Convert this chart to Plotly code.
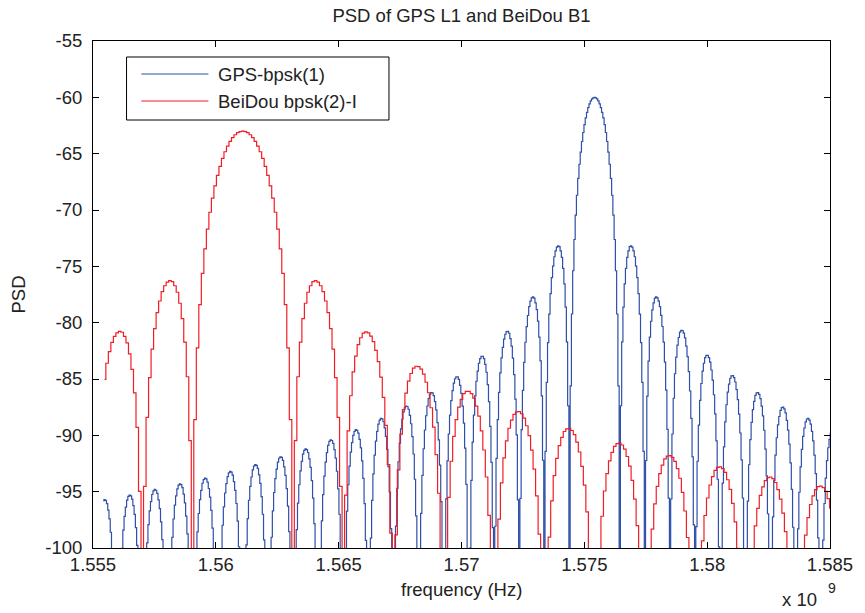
import numpy as np
import plotly.graph_objects as go

# ---------------- data ----------------
# GPS L1, BPSK(1): centre, null spacing, lobe peak levels (dB/Hz)
gps_center_mhz = 1575.42
gps_null_spacing_mhz = 1.023
gps_main_peak_db = -60.0
gps_left_lobe_peak_db = [-73.3, -77.8, -80.8, -83.0, -84.8, -86.2, -87.4, -88.5, -89.5, -90.4,
                         -91.2, -91.9, -92.6, -93.2, -93.8, -94.3, -94.8, -95.3, -95.7]
gps_right_lobe_peak_db = [-73.3, -77.8, -80.7, -82.9, -84.7, -86.2, -87.5, -88.5, -89.5]

# BeiDou B1, BPSK(2)-I
bds_center_mhz = 1561.098
bds_null_spacing_mhz = 2.046
bds_main_peak_db = -63.0
bds_left_lobe_peak_db = [-76.4, -80.9]
bds_right_lobe_peak_db = [-76.4, -80.9, -83.9, -86.1, -87.9, -89.4, -90.7, -91.8, -92.8, -93.7, -94.5]

# frequency span covered by the curves (MHz)
span_mhz = [1555.42, 1585.42]

# lobe shapes (dB relative to the lobe peak)
side_lobe_pos = [0.00, 0.05, 0.10, 0.15, 0.20, 0.25, 0.30, 0.35, 0.40, 0.45, 0.50,
                 0.55, 0.60, 0.65, 0.70, 0.75, 0.80, 0.85, 0.90, 0.95, 1.00]
side_lobe_drop_db = [-150.0, -16.1, -10.2, -6.9, -4.6, -3.0, -1.8, -1.0, -0.4, -0.1, 0.0,
                     -0.1, -0.4, -1.0, -1.8, -3.0, -4.6, -6.9, -10.2, -16.1, -150.0]
main_lobe_pos = [0.00, 0.05, 0.10, 0.15, 0.20, 0.25, 0.30, 0.35, 0.40, 0.45, 0.50,
                 0.55, 0.60, 0.65, 0.70, 0.75, 0.80, 0.85, 0.90, 0.95, 1.00]
main_lobe_drop_db = [0.0, -0.04, -0.14, -0.32, -0.58, -0.91, -1.33, -1.83, -2.42, -3.12, -3.92,
                     -4.86, -5.94, -7.20, -8.69, -10.45, -12.62, -15.39, -19.23, -25.61, -150.0]

x_tick_vals = [1.555, 1.56, 1.565, 1.57, 1.575, 1.58, 1.585]
x_tick_text = ["1.555", "1.56", "1.565", "1.57", "1.575", "1.58", "1.585"]
y_tick_vals = [-100, -95, -90, -85, -80, -75, -70, -65, -60, -55]
y_tick_text = ["-100", "-95", "-90", "-85", "-80", "-75", "-70", "-65", "-60", "-55"]

series_names = ["GPS-bpsk(1)", "BeiDou bpsk(2)-I"]
series_colors = ["#2F4FA8", "#F21D24"]


def build_psd(center, spacing, main_peak, left_peaks, right_peaks):
    pts = {}
    for pos, d in zip(main_lobe_pos, main_lobe_drop_db):
        for side in (-1, 1):
            pts[round(center + side * pos * spacing, 6)] = main_peak + d
    for side, peaks in ((-1, left_peaks), (1, right_peaks)):
        peaks = np.array(peaks, dtype=float)
        slopes = np.gradient(peaks) if len(peaks) > 1 else np.zeros(1)
        for k, (pk, s) in enumerate(zip(peaks, slopes), start=1):
            for pos, d in zip(side_lobe_pos, side_lobe_drop_db):
                key = round(center + side * (k + pos) * spacing, 6)
                val = pk + d + (pos - 0.5) * s
                if key in pts:
                    val = min(val, pts[key])
                pts[key] = val
    f = np.array(sorted(pts))
    v = np.array([pts[x] for x in f])
    keep = (f >= span_mhz[0]) & (f <= span_mhz[1])
    return f[keep] / 1000.0, v[keep]   # frequency in units of 1e9 Hz


gps_x, gps_y = build_psd(gps_center_mhz, gps_null_spacing_mhz, gps_main_peak_db,
                         gps_left_lobe_peak_db, gps_right_lobe_peak_db)
bds_x, bds_y = build_psd(bds_center_mhz, bds_null_spacing_mhz, bds_main_peak_db,
                         bds_left_lobe_peak_db, bds_right_lobe_peak_db)

FONT = "Liberation Sans, Arial, Helvetica, sans-serif"
TXT = "#222222"
FS = 18.5

fig = go.Figure()
fig.add_trace(go.Scatter(x=gps_x, y=gps_y, mode="lines", name=series_names[0],
                         line=dict(color=series_colors[0], width=1.2, shape="hvh"),
                         showlegend=False))
fig.add_trace(go.Scatter(x=bds_x, y=bds_y, mode="lines", name=series_names[1],
                         line=dict(color=series_colors[1], width=1.2, shape="hvh"),
                         showlegend=False))

# plot area in pixels
L, R, T, B = 93, 840, 41, 548
W, H = 865, 613
pw, ph = R - L, B - T


def px(xp):
    return (xp - L) / pw


def py(yp):
    return (B - yp) / ph


axis_common = dict(showgrid=False, zeroline=False, showline=True, linecolor="black",
                   linewidth=1, mirror="ticks", ticks="inside", ticklen=6,
                   tickcolor="black", tickwidth=1,
                   tickfont=dict(family=FONT, size=FS, color=TXT))

fig.update_layout(
    width=W, height=H,
    margin=dict(l=L, r=W - R, t=T, b=H - B, pad=0),
    paper_bgcolor="white", plot_bgcolor="white",
    xaxis=dict(range=[1.555, 1.585], tickmode="array", tickvals=x_tick_vals,
               ticktext=x_tick_text, ticklabelstandoff=0, **axis_common),
    yaxis=dict(range=[-100, -55], tickmode="array", tickvals=y_tick_vals,
               ticktext=y_tick_text, ticklabelstandoff=6, **axis_common),
    title=dict(text="PSD of GPS L1 and BeiDou B1", x=px(466.5), xref="paper",
               xanchor="center", y=1 - 16 / H, yref="container", yanchor="middle",
               font=dict(family=FONT, size=FS, color=TXT)),
    showlegend=False,
)

annotations = [
    dict(text="frequency (Hz)", x=0.5, y=py(589), xref="paper", yref="paper",
         xanchor="center", yanchor="middle", showarrow=False,
         font=dict(family=FONT, size=FS, color=TXT)),
    dict(text="PSD", x=px(17), y=0.5, xref="paper", yref="paper", textangle=-90,
         xanchor="center", yanchor="middle", showarrow=False,
         font=dict(family=FONT, size=FS, color=TXT)),
    dict(text="x 10", x=px(829), y=py(599), xref="paper", yref="paper",
         xanchor="right", yanchor="middle", showarrow=False,
         font=dict(family=FONT, size=FS, color=TXT)),
    dict(text="9", x=px(836), y=py(588), xref="paper", yref="paper",
         xanchor="left", yanchor="middle", showarrow=False,
         font=dict(family=FONT, size=14, color=TXT)),
]

# legend box drawn by hand to match the original layout
shapes = [dict(type="rect", xref="paper", yref="paper", x0=px(127), x1=px(393),
               y0=py(120), y1=py(57), line=dict(color="black", width=1),
               fillcolor="white", layer="above")]
legend_rows_y = [74, 101]
for name, col, yrow in zip(series_names, series_colors, legend_rows_y):
    shapes.append(dict(type="line", xref="paper", yref="paper", x0=px(142), x1=px(210),
                       y0=py(yrow), y1=py(yrow), line=dict(color=col, width=1.2),
                       layer="above"))
    annotations.append(dict(text=name, x=px(218), y=py(yrow), xref="paper", yref="paper",
                            xanchor="left", yanchor="middle", showarrow=False,
                            font=dict(family=FONT, size=FS, color=TXT)))

fig.update_layout(shapes=shapes, annotations=annotations)
fig.write_html("out.html")
